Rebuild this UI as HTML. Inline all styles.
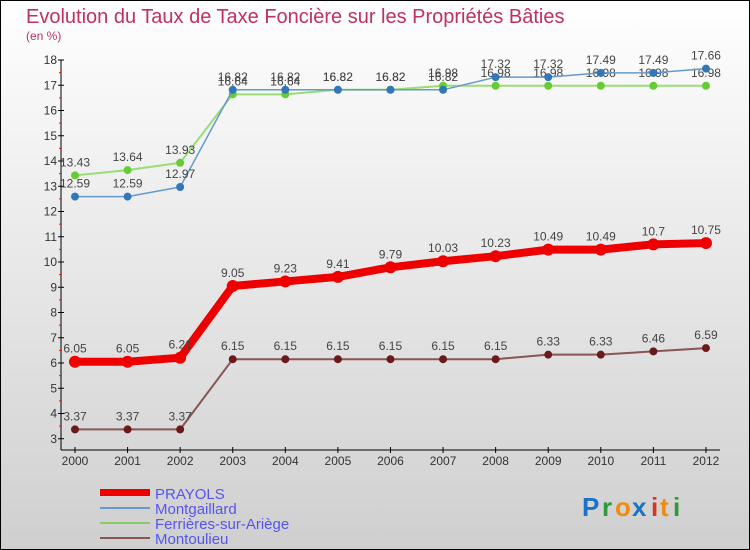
<!DOCTYPE html>
<html><head><meta charset="utf-8"><style>
body{margin:0}
#c{width:750px;height:550px;position:relative;overflow:hidden;background:linear-gradient(#ffffff,#cfcfcf);font-family:"Liberation Sans",sans-serif}
</style></head><body>
<div id="c">
<svg id="s" width="750" height="550" style="position:absolute;left:0;top:0">
<rect x="0.5" y="0.5" width="749" height="549" fill="none" stroke="#000"/>
<text x="26" y="23" font-size="20" fill="#c03060">Evolution du Taux de Taxe Foncière sur les Propriétés Bâties</text>
<text x="26" y="40" font-size="12" fill="#c03060">(en %)</text>
<g id="g"></g>
<g>
<rect x="100" y="489" width="50" height="7" fill="#e00"/>
<text x="155" y="499" font-size="15" fill="#5555ee">PRAYOLS</text>
<line x1="100" y1="508" x2="150" y2="508" stroke="#6699cc" stroke-width="2"/>
<text x="155" y="514" font-size="15" fill="#5555ee">Montgaillard</text>
<line x1="100" y1="523" x2="150" y2="523" stroke="#88cc66" stroke-width="2"/>
<text x="155" y="529" font-size="15" fill="#5555ee">Ferrières-sur-Ariège</text>
<line x1="100" y1="538" x2="150" y2="538" stroke="#885555" stroke-width="2"/>
<text x="155" y="544" font-size="15" fill="#5555ee">Montoulieu</text>
</g>
<g font-size="26" font-weight="bold">
<text x="582" y="516" fill="#1a73c9">P</text><text x="602" y="516" fill="#2a9a3a">r</text><text x="615" y="516" fill="#f08a10">o</text><text x="632" y="516" fill="#1a73c9">x</text><text x="651" y="516" fill="#e03020">i</text><text x="660" y="516" fill="#f08a10">t</text><text x="673" y="516" fill="#2a9a3a">i</text>
</g>
</svg>
</div>
<script>
const years=[2000,2001,2002,2003,2004,2005,2006,2007,2008,2009,2010,2011,2012];
const prayols=[6.05,6.05,6.21,9.05,9.23,9.41,9.79,10.03,10.23,10.49,10.49,10.7,10.75];
const montgaillard=[12.59,12.59,12.97,16.82,16.82,16.82,16.82,16.82,17.32,17.32,17.49,17.49,17.66];
const ferrieres=[13.43,13.64,13.93,16.64,16.64,16.82,16.82,16.98,16.98,16.98,16.98,16.98,16.98];
const montoulieu=[3.37,3.37,3.37,6.15,6.15,6.15,6.15,6.15,6.15,6.33,6.33,6.46,6.59];
const yTicks=[3,4,5,6,7,8,9,10,11,12,13,14,15,16,17,18];
const NS="http://www.w3.org/2000/svg";
const g=document.getElementById('g');
const X=i=>75+i*52.58;
const Y=v=>438.75-(v-3)*25.25;
function mk(t,a,p){const e=document.createElementNS(NS,t);for(const k in a)e.setAttribute(k,a[k]);(p||g).appendChild(e);return e;}
let ya=mk('line',{x1:61,y1:Y(18),x2:61,y2:450,stroke:'#000'});


let xa=mk('line',{x1:61,y1:450,x2:720,y2:450,stroke:'#000'});


yTicks.forEach(v=>{
  mk('line',{x1:58,y1:Y(v),x2:64,y2:Y(v),stroke:'#000'});
  if(v<18)mk('line',{x1:59,y1:Y(v+0.5),x2:61,y2:Y(v+0.5),stroke:'#f00'});
  const t=mk('text',{x:57,y:Y(v)+4,'font-size':12,'text-anchor':'end',fill:'#333'});
  t.textContent=v;
  
  
});
years.forEach((y,i)=>{
  mk('line',{x1:X(i),y1:447,x2:X(i),y2:453,stroke:'#000'});
  const t=mk('text',{x:X(i),y:465,'font-size':12,'text-anchor':'middle',fill:'#333'});
  t.textContent=y;
  
  
});
function series(vals,color,w,r,dot,name){
  const pts=vals.map((v,i)=>X(i)+','+Y(v)).join(' ');
  const l=mk('polyline',{points:pts,fill:'none',stroke:color,'stroke-width':w,'stroke-linejoin':'round'});
  
  
  vals.forEach((v,i)=>{
    const c=mk('circle',{cx:X(i),cy:Y(v),r:r,fill:dot});
    
    
    const t=mk('text',{x:X(i),y:Y(v)-9,'font-size':12,'text-anchor':'middle',fill:'#444'});
    t.textContent=v;
    
    
  });
}
series(montoulieu,'#885555',2,4,'#6a1a1a','montoulieu');
series(prayols,'#ee0000',8,6,'#ee0000','prayols');
series(ferrieres,'#99dd77',2,4,'#66cc33','ferrieres');
series(montgaillard,'#6699cc',1.5,4,'#3377bb','montgaillard');
</script>
</body></html>
